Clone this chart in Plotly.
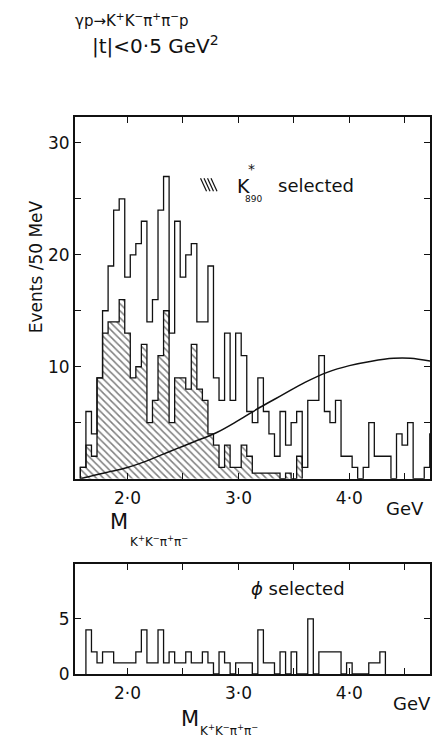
import numpy as np
import plotly.graph_objects as go

W, H = 432, 739
FIG_H = 750

# Invariant mass of K+K-pi+pi-, 50 MeV bins (GeV)
bin_width = 0.05

# all events with |t| < 0.5 GeV^2
all_start = 1.575
all_events = [1, 6, 4, 9, 15, 19, 24, 25, 18, 20,
              21, 23, 14, 16, 24, 27, 13, 23, 18, 20,
              21, 14, 14, 19, 9, 7, 13, 7, 13, 11,
              6, 5, 9, 6, 4, 2, 6, 3, 5, 6,
              1, 7, 7, 11, 6, 5, 7, 2, 2, 1,
              0, 1, 5, 2, 2, 2, 0, 4, 3, 5,
              0, 0, 1, 4]

# K*(890) selected subsample (hatched)
kstar_start = 1.575
kstar_events = [1, 3, 2, 9, 13, 14, 14, 16, 13, 9,
                10, 12, 5, 7, 11, 15, 5, 9, 9, 8,
                12, 8, 7, 4, 3, 1, 3, 1, 1, 3,
                2, 0.5, 0.5, 0.5, 0.5, 0.5, 0, 0.5, 0, 2]

# phi selected subsample (lower panel)
phi_start = 1.625
phi_events = [4, 2, 1, 2, 2, 1, 1, 1, 1, 2,
              4, 1, 1, 4, 1, 2, 1, 1, 2, 1,
              1, 2, 1, 0, 2, 1, 0, 1, 1, 1,
              0, 4, 1, 1, 0, 2, 0, 2, 0, 0,
              5, 0, 2, 2, 2, 2, 0, 1, 0, 0,
              0, 1, 1, 2]

# phase-space curve
curve_mass = [1.58, 1.70, 1.85, 2.00, 2.15, 2.30, 2.45, 2.60, 2.80, 3.00,
              3.20, 3.40, 3.60, 3.80, 4.00, 4.20, 4.40, 4.55, 4.73]
curve_events = [0.0, 0.3, 0.65, 1.0, 1.5, 2.1, 2.7, 3.3, 4.1, 5.2,
                6.4, 7.5, 8.6, 9.5, 10.1, 10.5, 10.75, 10.75, 10.5]

mass_ticks = [1.5, 2.0, 2.5, 3.0, 3.5, 4.0, 4.5]
mass_ticktext = ["", "2·0", "", "3·0", "", "4·0", ""]
top_yticks = [5, 10, 15, 20, 25, 30]
top_yticktext = ["", "10", "", "20", "", "30"]
low_yticks = [0, 5]
low_yticktext = ["0", "5"]

FONT = "DejaVu Sans"
INK = "#111111"


def steps(start, counts):
    edges = start + bin_width * np.arange(len(counts) + 1)
    xs = [edges[0]] + list(edges[:-1]) + [edges[-1]]
    ys = [0] + list(counts) + [0]
    return xs, ys


def px(x):
    return x / W


def py(y):
    return 1 - y / H


fig = go.Figure()

kx, ky = steps(kstar_start, kstar_events)
fig.add_trace(go.Scatter(
    x=kx, y=ky, mode="lines", line=dict(shape="hv", color=INK, width=1.3),
    fill="tozeroy", fillcolor="white",
    fillpattern=dict(shape="\\", fgcolor="black", bgcolor="white", size=5, solidity=0.3),
    xaxis="x", yaxis="y", hoverinfo="skip", showlegend=False))

ax_, ay_ = steps(all_start, all_events)
fig.add_trace(go.Scatter(
    x=ax_, y=ay_, mode="lines", line=dict(shape="hv", color=INK, width=1.3),
    xaxis="x", yaxis="y", hoverinfo="skip", showlegend=False))

fig.add_trace(go.Scatter(
    x=curve_mass, y=curve_events, mode="lines",
    line=dict(shape="spline", color=INK, width=1.5),
    xaxis="x", yaxis="y", hoverinfo="skip", showlegend=False))

phx, phy = steps(phi_start, phi_events)
fig.add_trace(go.Scatter(
    x=phx, y=phy, mode="lines", line=dict(shape="hv", color=INK, width=1.3),
    xaxis="x2", yaxis="y2", hoverinfo="skip", showlegend=False))

xdom = [px(75), px(431)]
axis_common = dict(showline=True, linecolor=INK, linewidth=1.5, mirror="ticks",
                   ticks="inside", tickcolor=INK, tickwidth=1.3, ticklen=6,
                   showgrid=False, zeroline=False,
                   tickfont=dict(family=FONT, size=17, color=INK))

fig.update_layout(
    width=W, height=FIG_H, margin=dict(l=0, r=0, t=0, b=0),
    paper_bgcolor="white", plot_bgcolor="white",
    xaxis=dict(domain=xdom, range=[1.525, 4.727], anchor="y",
               tickmode="array", tickvals=mass_ticks, ticktext=mass_ticktext,
               ticklabelstandoff=3, **axis_common),
    yaxis=dict(domain=[py(478), py(117)], range=[0, 32.3], anchor="x",
               tickmode="array", tickvals=top_yticks, ticktext=top_yticktext,
               **axis_common),
    xaxis2=dict(domain=xdom, range=[1.525, 4.727], anchor="y2",
                tickmode="array", tickvals=mass_ticks, ticktext=mass_ticktext,
                ticklabelstandoff=3, **axis_common),
    yaxis2=dict(domain=[py(673), py(563)], range=[0, 10], anchor="x2",
                tickmode="array", tickvals=low_yticks, ticktext=low_yticktext,
                **axis_common),
)

texts = [
    ("γp→K<sup>+</sup>K<sup>−</sup>π<sup>+</sup>π<sup>−</sup>p", 73, 20, 15),
    ("|t|<0·5 GeV<sup>2</sup>", 90, 45, 20),
    ("K", 236, 186, 19),
    ("*", 247, 169, 14),
    ("890", 244, 199, 9),
    ("selected", 277, 185, 18),
    ("GeV", 385, 508, 18),
    ("M", 108, 521, 21),
    ("K<sup>+</sup>K<sup>−</sup>π<sup>+</sup>π<sup>−</sup>", 128, 540, 12),
    ("<i>ϕ</i> selected", 250, 588, 18),
    ("GeV", 392, 703, 18),
    ("M", 179, 718, 21),
    ("K<sup>+</sup>K<sup>−</sup>π<sup>+</sup>π<sup>−</sup>", 198, 729, 12),
]
for t, x, y, size in texts:
    fig.add_annotation(text=t, x=px(x), y=py(y), xref="paper", yref="paper",
                       xanchor="left", yanchor="middle", showarrow=False,
                       font=dict(family=FONT, size=size, color=INK))

fig.add_annotation(text="Events /50 MeV", x=px(36), y=py(266), xref="paper", yref="paper",
                   xanchor="center", yanchor="middle", textangle=-90, showarrow=False,
                   font=dict(family=FONT, size=17, color=INK))

# hatch key next to the K* label
for i in range(4):
    x0 = 201 + 3.5 * i
    fig.add_shape(type="line", xref="paper", yref="paper",
                  x0=px(x0), y0=py(178), x1=px(x0 + 6), y1=py(191),
                  line=dict(color=INK, width=1.2))

fig.write_html("out.html")
